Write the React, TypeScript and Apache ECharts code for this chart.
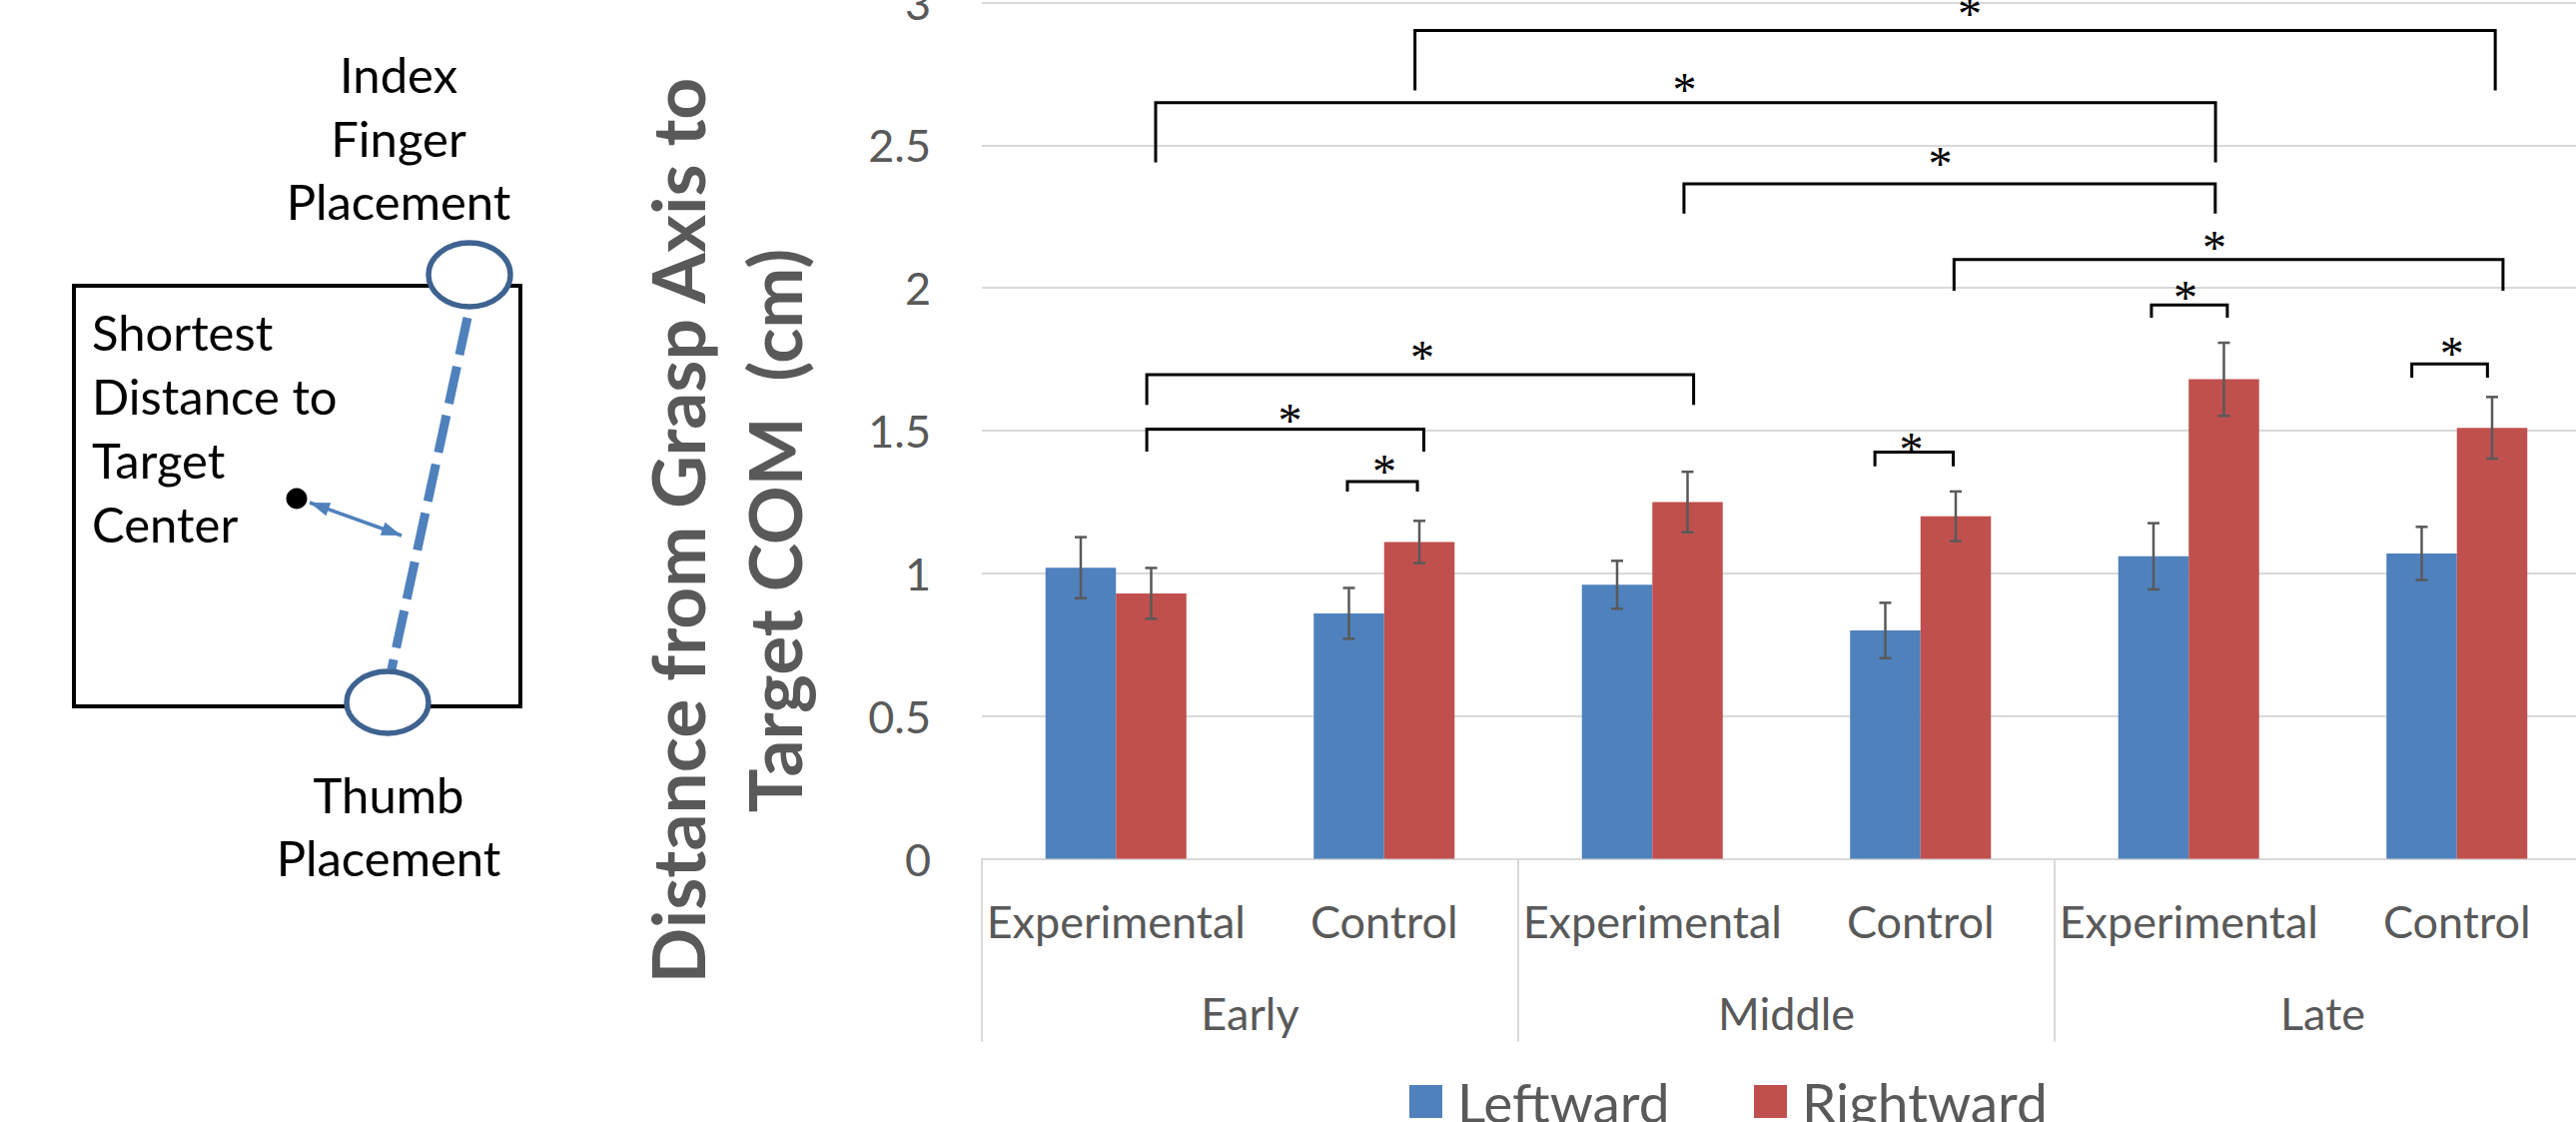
import React, { useEffect, useRef } from 'react';
import * as echarts from 'echarts';

// ---------- data ----------
const conditions = ['Experimental', 'Control', 'Experimental', 'Control', 'Experimental', 'Control'];
const phases = ['Early', 'Middle', 'Late'];
const seriesNames = ['Leftward', 'Rightward'];
const leftward = [1.02, 0.86, 0.96, 0.80, 1.06, 1.07];
const rightward = [0.93, 1.11, 1.25, 1.20, 1.68, 1.51];
const leftwardErr = [0.107, 0.089, 0.084, 0.097, 0.116, 0.093];
const rightwardErr = [0.089, 0.074, 0.106, 0.087, 0.128, 0.108];
const yMin = 0;
const yMax = 3;
const yStep = 0.5;

// significance brackets, x in category units (category i spans [i, i+1])
const bracketLeft = [1.615, 0.648, 2.618, 3.625, 4.361, 5.332, 0.615, 0.615, 1.363, 3.330];
const bracketRight = [5.643, 4.600, 4.599, 5.672, 4.644, 5.614, 2.654, 1.648, 1.624, 3.622];
const bracketTop = [2.902, 2.649, 2.365, 2.100, 1.940, 1.734, 1.696, 1.505, 1.322, 1.425];
const bracketLegEnd = [2.692, 2.440, 2.261, 1.990, 1.896, 1.686, 1.590, 1.427, 1.287, 1.375];
const starX = [3.683, 2.620, 3.574, 4.596, 4.488, 5.481, 1.642, 1.149, 1.501, 3.466];
const starY = [2.991, 2.724, 2.466, 2.172, 1.997, 1.798, 1.784, 1.565, 1.385, 1.465];

// ---------- styles ----------
const FONT = 'Lato';
const TEXT_GREY = '#595959';
const GRID_GREY = '#d9d9d9';
const BLUE = '#4f81bd';
const RED = '#c0504d';
const BAR_FRAC = 0.2626;

function arrowHead(tip: number[], from: number[], len: number, half: number) {
  const dx = tip[0] - from[0];
  const dy = tip[1] - from[1];
  const l = Math.sqrt(dx * dx + dy * dy);
  const ux = dx / l, uy = dy / l;
  const nx = -uy, ny = ux;
  const bx = tip[0] - ux * len, by = tip[1] - uy * len;
  return [tip, [bx + nx * half, by + ny * half], [bx - nx * half, by - ny * half]];
}

export default function App() {
  const ref = useRef<HTMLDivElement>(null);

  useEffect(() => {
    document.body.style.margin = '0';
    const chart = echarts.init(ref.current!, undefined, { renderer: 'svg' });

    const errData: number[][] = [];
    leftward.forEach((v, i) => errData.push([i, v - leftwardErr[i], v + leftwardErr[i], 0]));
    rightward.forEach((v, i) => errData.push([i, v - rightwardErr[i], v + rightwardErr[i], 1]));

    const bracketData = bracketLeft.map((x1, i) => [x1, bracketRight[i], bracketTop[i], bracketLegEnd[i], starX[i], starY[i]]);

    const A = [310, 503];
    const B = [402, 536];

    const diagText = (text: string, x: number, y: number, align: string) => ({
      type: 'text', x, y,
      style: { text, fill: '#000', fontFamily: FONT, fontSize: 49, align, verticalAlign: 'middle' },
    });

    const legendText = { fontSize: 55, color: TEXT_GREY, fontFamily: FONT, lineHeight: 33, padding: [0, 0, 0, 10] };

    const option: any = {
      animation: false,
      backgroundColor: '#ffffff',
      textStyle: { fontFamily: FONT },
      grid: { left: 983, right: 26, top: 2.5, bottom: 263.4, containLabel: false, outerBoundsMode: 'none' },
      legend: [
        {
          data: [seriesNames[0]], left: 1411, top: 1075, padding: 0, itemWidth: 33, itemHeight: 33, icon: 'rect', selectedMode: false,
          textStyle: legendText,
        },
        {
          data: [seriesNames[1]], left: 1756, top: 1075, padding: 0, itemWidth: 33, itemHeight: 33, icon: 'rect', selectedMode: false,
          textStyle: legendText,
        },
      ],
      xAxis: [
        {
          type: 'category', data: conditions, position: 'bottom',
          axisLine: { show: true, lineStyle: { color: GRID_GREY, width: 2 } },
          axisTick: { show: false },
          axisLabel: { interval: 0, fontSize: 45, color: TEXT_GREY, fontFamily: FONT, margin: 62, verticalAlign: 'middle' },
          splitLine: { show: false },
        },
        {
          type: 'category', data: phases, position: 'bottom',
          axisLine: { show: false },
          axisTick: { show: true, interval: 0, length: 183, lineStyle: { color: GRID_GREY, width: 2 } },
          axisLabel: { interval: 0, fontSize: 45, color: TEXT_GREY, fontFamily: FONT, margin: 154, verticalAlign: 'middle' },
          splitLine: { show: false },
        },
        { type: 'value', min: 0, max: 6, show: false },
      ],
      yAxis: {
        type: 'value', min: yMin, max: yMax, interval: yStep,
        axisLine: { show: false }, axisTick: { show: false },
        splitLine: { show: true, lineStyle: { color: GRID_GREY, width: 2 } },
        axisLabel: { fontSize: 45, color: TEXT_GREY, fontFamily: FONT, margin: 51 },
      },
      series: [
        { name: seriesNames[0], type: 'bar', data: leftward, barWidth: '26.26%', barGap: '0%', itemStyle: { color: BLUE } },
        { name: seriesNames[1], type: 'bar', data: rightward, barWidth: '26.26%', barGap: '0%', itemStyle: { color: RED } },
        {
          type: 'custom', data: errData, encode: { x: 0, y: [1, 2] }, z: 5, clip: false,
          renderItem: (params: any, api: any) => {
            const cat = api.value(0);
            const band = api.size([1, 0])[0];
            const off = (api.value(3) === 0 ? -1 : 1) * band * BAR_FRAC / 2;
            const pLo = api.coord([cat, api.value(1)]);
            const pHi = api.coord([cat, api.value(2)]);
            const x = pHi[0] + off;
            const cap = 6;
            const style = { stroke: TEXT_GREY, lineWidth: 2.5 };
            return {
              type: 'group', children: [
                { type: 'line', shape: { x1: x, y1: pHi[1], x2: x, y2: pLo[1] }, style },
                { type: 'line', shape: { x1: x - cap, y1: pHi[1], x2: x + cap, y2: pHi[1] }, style },
                { type: 'line', shape: { x1: x - cap, y1: pLo[1], x2: x + cap, y2: pLo[1] }, style },
              ],
            };
          },
        },
        {
          type: 'custom', data: bracketData, xAxisIndex: 2, encode: { x: [0, 1, 4], y: [2, 3, 5] }, z: 6, clip: false,
          renderItem: (params: any, api: any) => {
            const x1 = api.value(0), x2 = api.value(1), yt = api.value(2), yl = api.value(3);
            const p1 = api.coord([x1, yl]);
            const p2 = api.coord([x1, yt]);
            const p3 = api.coord([x2, yt]);
            const p4 = api.coord([x2, yl]);
            const s = api.coord([api.value(4), api.value(5)]);
            return {
              type: 'group', children: [
                { type: 'polyline', shape: { points: [p1, p2, p3, p4] }, style: { stroke: '#000', lineWidth: 3, fill: 'none' } },
                { type: 'text', style: { text: '*', x: s[0], y: s[1] + 8, fill: '#000', fontFamily: 'Liberation Serif', fontSize: 48, align: 'center', verticalAlign: 'middle' } },
              ],
            };
          },
        },
      ],
      graphic: [
        {
          type: 'text', x: 726, y: 531, rotation: Math.PI / 2,
          style: { text: 'Distance from Grasp Axis to\nTarget COM  (cm)', fill: TEXT_GREY, fontFamily: FONT, fontWeight: 'bold', fontSize: 73, lineHeight: 97, align: 'center', verticalAlign: 'middle' },
        },
        { type: 'rect', shape: { x: 74, y: 286, width: 447, height: 421 }, style: { fill: 'none', stroke: '#000', lineWidth: 4 } },
        { type: 'line', shape: { x1: 468, y1: 318, x2: 392, y2: 670 }, style: { stroke: BLUE, lineWidth: 9, lineDash: [38, 12] } },
        { type: 'ellipse', shape: { cx: 470, cy: 275, rx: 41, ry: 32 }, style: { fill: '#fff', stroke: '#3e6391', lineWidth: 5.5 } },
        { type: 'ellipse', shape: { cx: 388, cy: 703, rx: 41, ry: 31 }, style: { fill: '#fff', stroke: '#3e6391', lineWidth: 5.5 } },
        { type: 'circle', shape: { cx: 297, cy: 499, r: 10.5 }, style: { fill: '#000' } },
        { type: 'line', shape: { x1: A[0], y1: A[1], x2: B[0], y2: B[1] }, style: { stroke: BLUE, lineWidth: 3.5 } },
        { type: 'polygon', shape: { points: arrowHead(B, A, 20, 7) }, style: { fill: BLUE } },
        { type: 'polygon', shape: { points: arrowHead(A, B, 20, 7) }, style: { fill: BLUE } },
        diagText('Index', 399, 74, 'center'),
        diagText('Finger', 399, 138, 'center'),
        diagText('Placement', 399, 201, 'center'),
        diagText('Shortest', 92, 332, 'left'),
        diagText('Distance to', 92, 396, 'left'),
        diagText('Target', 92, 460, 'left'),
        diagText('Center', 92, 524, 'left'),
        diagText('Thumb', 389, 795, 'center'),
        diagText('Placement', 389, 858, 'center'),
      ],
    };

    chart.setOption(option);
    return () => chart.dispose();
  }, []);

  return (
    <div style={{ position: 'fixed', left: 0, top: 0, width: 2579, height: 1123, overflow: 'hidden', background: '#fff' }}>
      <div ref={ref} style={{ width: 2620, height: 1123 }} />
    </div>
  );
}
